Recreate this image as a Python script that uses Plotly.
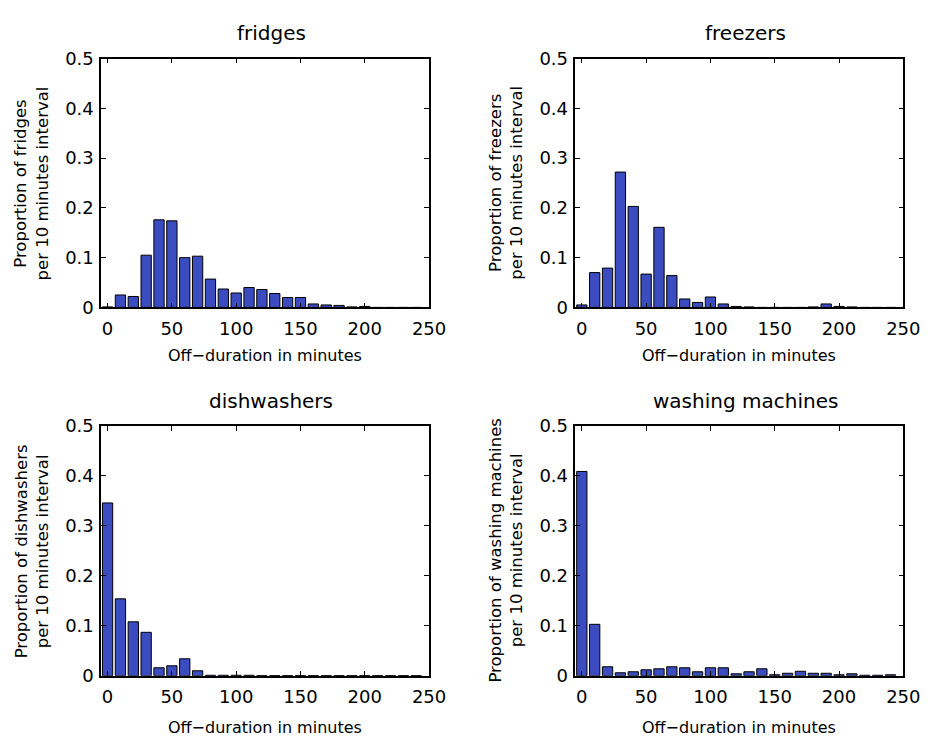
import plotly.graph_objects as go

bins = [0, 10, 20, 30, 40, 50, 60, 70, 80, 90, 100, 110, 120, 130, 140, 150,
        160, 170, 180, 190, 200, 210, 220, 230, 240]

fridges = [0.001, 0.025, 0.022, 0.105, 0.176, 0.174, 0.100, 0.103, 0.057, 0.037,
           0.029, 0.040, 0.036, 0.028, 0.020, 0.020, 0.007, 0.005, 0.004, 0.001,
           0.002, 0.0, 0.0, 0.0, 0.0]
freezers = [0.005, 0.070, 0.079, 0.272, 0.203, 0.067, 0.161, 0.064, 0.017, 0.010,
            0.021, 0.007, 0.002, 0.001, 0.0, 0.0, 0.0, 0.0, 0.001, 0.007,
            0.002, 0.001, 0.0, 0.0, 0.0]
dishwashers = [0.346, 0.154, 0.108, 0.087, 0.016, 0.020, 0.034, 0.010, 0.001, 0.001,
               0.001, 0.001, 0.0005, 0.0005, 0.0005, 0.0005, 0.0005, 0.0005, 0.0005, 0.0005,
               0.0005, 0.0005, 0.0005, 0.0005, 0.0005]
washing = [0.409, 0.103, 0.018, 0.006, 0.008, 0.012, 0.014, 0.018, 0.016, 0.008,
           0.016, 0.016, 0.004, 0.008, 0.014, 0.002, 0.005, 0.009, 0.005, 0.005,
           0.002, 0.004, 0.001, 0.001, 0.002]

titles = ["fridges", "freezers", "dishwashers", "washing machines"]
series = [fridges, freezers, dishwashers, washing]
xticks = [0, 50, 100, 150, 200, 250]
yticks = [0, 0.1, 0.2, 0.3, 0.4, 0.5]
xlabel = "Off\u2212duration in minutes"

W, H = 939, 747
FONT = "DejaVu Sans"
BAR = "#3b4cc0"

# panel boxes in pixels: (left, right, top, bottom)
boxes = [(103, 437, 49, 305), (586, 920, 49, 305),
         (103, 437, 427, 684), (586, 920, 427, 684)]
xlabel_gap = [49, 49, 53, 53]

fig = go.Figure()
layout = dict(width=W, height=H, margin=dict(l=0, r=0, t=0, b=0),
              paper_bgcolor="white", plot_bgcolor="white", showlegend=False,
              font=dict(family=FONT, color="black"), annotations=[])

for i, (name, vals) in enumerate(zip(titles, series)):
    k = "" if i == 0 else str(i + 1)
    l, r, t, b = boxes[i]
    fig.add_trace(go.Bar(x=bins, y=vals, width=8, xaxis="x" + k, yaxis="y" + k,
                         marker=dict(color=BAR, line=dict(color="black", width=1))))
    common = dict(showline=True, linecolor="black", linewidth=1.5, mirror="allticks",
                  ticks="inside", ticklen=5, tickwidth=1, tickcolor="black",
                  showgrid=False, zeroline=False,
                  tickfont=dict(family=FONT, size=18, color="black"))
    layout["xaxis" + k] = dict(domain=[l / W, r / W], anchor="y" + k, range=[-5, 250],
                               tickvals=xticks, ticktext=[str(v) for v in xticks],
                               ticklabelstandoff=4, **common)
    layout["yaxis" + k] = dict(domain=[1 - b / H, 1 - t / H], anchor="x" + k, range=[0, 0.5],
                               tickvals=yticks, ticktext=["0", "0.1", "0.2", "0.3", "0.4", "0.5"],
                               ticklabelstandoff=2, **common)
    cx = (l + r) / 2
    # subplot title
    layout["annotations"].append(dict(text=name, x=(cx + 6) / W, y=1 - (t - 26) / H,
                                      xref="paper", yref="paper", showarrow=False,
                                      xanchor="center", yanchor="middle",
                                      font=dict(family=FONT, size=20, color="black")))
    # x label
    layout["annotations"].append(dict(text=xlabel, x=cx / W, y=1 - (b + xlabel_gap[i]) / H,
                                      xref="paper", yref="paper", showarrow=False,
                                      xanchor="center", yanchor="middle",
                                      font=dict(family=FONT, size=16, color="black")))
    # y label
    layout["annotations"].append(dict(text="Proportion of " + name + "<br>per 10 minutes interval",
                                      x=(l - 71) / W, y=1 - ((t + b) / 2) / H,
                                      xref="paper", yref="paper", showarrow=False,
                                      textangle=-90, xanchor="center", yanchor="middle",
                                      font=dict(family=FONT, size=16.5, color="black")))

fig.update_layout(**layout)
fig.write_html("out.html")
